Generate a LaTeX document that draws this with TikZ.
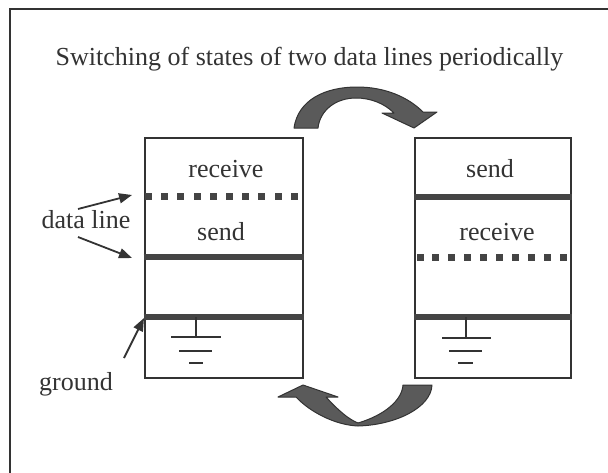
\documentclass[tikz,border=0pt]{standalone}
\usepackage{fontspec}
\setmainfont{Liberation Serif}
\usetikzlibrary{arrows.meta}
\definecolor{ink}{HTML}{333333}
\definecolor{bandfill}{HTML}{5A5A5A}
\definecolor{linegray}{HTML}{444444}
\begin{document}
\begin{tikzpicture}[x=1pt,y=-1pt,
  lbl/.style={inner sep=0pt,anchor=base,text=ink,font=\fontsize{26}{30}\selectfont},
  boxframe/.style={draw=ink,line width=2pt},
  solidline/.style={draw=linegray,line width=5.5pt},
  gnd/.style={draw=ink,line width=1.6pt},
  pointer/.style={draw=ink,line width=1.8pt,-{Triangle[length=13pt,width=10pt]}},
  band/.style={fill=bandfill,draw=ink,line width=1pt,line join=round}]
\useasboundingbox (0,0) rectangle (608,472);
\fill[white] (0,0) rectangle (608,472);
\begin{scope}
\clip (0,0) rectangle (608,472);
\draw[ink,line width=2pt] (10,9) rectangle (640,500);
\end{scope}

\node[lbl] (title) at (309.5,65) {Switching of states of two data lines periodically};

% boxes
\node[boxframe,minimum width=158pt,minimum height=240pt,inner sep=0pt] (L) at (223.5,258) {};
\node[boxframe,minimum width=156pt,minimum height=240pt,inner sep=0pt] (R) at (493,258) {};

% left box contents
\node[lbl] (Lrecv) at (226,177) {receive};
\node[lbl] (Lsend) at (221,240) {send};
\foreach \i in {0,...,9}{
  \fill[linegray] ({145+16.2*\i},193) rectangle ++(7,7);
}
\draw[solidline] (L.west |- 0,257) -- (L.east |- 0,257);
\draw[solidline] (L.west |- 0,317) -- (L.east |- 0,317);
\draw[gnd] (196,317) -- (196,337);
\draw[gnd] (171,337) -- (221,337);
\draw[gnd] (179,351) -- (212,351);
\draw[gnd] (189,363) -- (203,363);

% right box contents
\node[lbl] (Rsend) at (490,177) {send};
\node[lbl] (Rrecv) at (497,240) {receive};
\draw[solidline] (R.west |- 0,197) -- (R.east |- 0,197);
\foreach \i in {0,...,9}{
  \fill[linegray] ({416.5+15.95*\i},254) rectangle ++(7,7);
}
\draw[solidline] (R.west |- 0,317) -- (R.east |- 0,317);
\draw[gnd] (466,317) -- (466,338);
\draw[gnd] (442,338) -- (491,338);
\draw[gnd] (449,351) -- (482,351);
\draw[gnd] (458,363) -- (473,363);

% left labels and pointers
\node[lbl] (dl) at (86,228) {data line};
\node[lbl] (gr) at (76,390) {ground};
\coordinate (dlA) at (78,209);
\coordinate (dlB) at (78,237);
\coordinate (grA) at (124,358);
\coordinate (tA) at (132,195);
\coordinate (tB) at (132,258);
\coordinate (tG) at (144,318);
\draw[pointer] (dlA) -- (tA);
\draw[pointer] (dlB) -- (tB);
\draw[pointer] (grA) -- (tG);

% top curved arrow
\fill[band] (294,128) .. controls (298,100) and (325,87) .. (357,87)
  .. controls (385,87) and (408,97) .. (423,112) -- (437,112) -- (414,128)
  -- (382,113) -- (394,113) .. controls (384,103) and (370,98) .. (356,98)
  .. controls (336,98) and (320,110) .. (318,128) -- cycle;

% bottom curved arrow
\fill[band] (432,385) .. controls (431,408) and (395,425) .. (358,426)
  .. controls (335,425) and (310,412) .. (296,397) -- (278,397) -- (303,385)
  -- (338,397) -- (326,397) .. controls (338,410) and (348,419) .. (358,423)
  .. controls (385,415) and (402,400) .. (403,385) -- cycle;
\end{tikzpicture}
\end{document}
